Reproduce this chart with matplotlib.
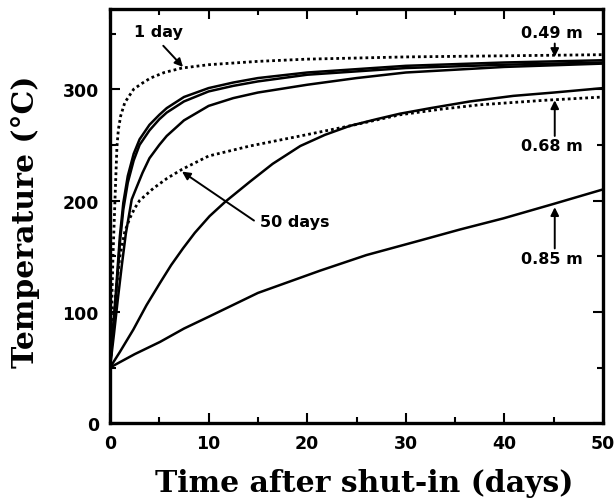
import matplotlib
matplotlib.use("Agg")
import matplotlib.pyplot as plt
from matplotlib.ticker import MultipleLocator

# curves (time in days, temperature in degC)
x_d1 = [0, 0.15, 0.3, 0.5, 0.7, 0.85, 1.08, 1.5, 2.4, 3.2, 4.1, 5.5, 7.3, 10, 15, 20, 30, 40, 50]
t_d1 = [50, 100, 150, 200, 248, 264, 276, 288, 300, 305, 310, 315, 319, 322, 325, 327, 329, 330, 331]

x_s1 = [0, 0.3, 0.6, 1.0, 1.35, 1.8, 2.4, 3.0, 4.0, 5.0, 5.75, 7.5, 10, 12.5, 15, 20, 25, 30, 40, 50]
t_s1 = [50, 85, 118, 168, 198, 222, 242, 255, 268, 277, 283, 293, 301, 306, 310, 315, 318, 321, 324, 326]

x_s2 = [0, 0.3, 0.6, 1.0, 1.35, 1.8, 2.4, 3.0, 4.0, 5.0, 5.75, 7.5, 10, 12.5, 15, 20, 25, 30, 40, 50]
t_s2 = [50, 82, 113, 162, 192, 216, 236, 250, 263, 273, 279, 289, 298, 303, 307, 313, 316, 319, 322, 324]

x_s3 = [0, 0.4, 0.8, 1.2, 1.6, 2.2, 2.7, 3.3, 4.0, 5.0, 5.75, 7.5, 10, 12.5, 15, 20, 25, 30, 40, 50]
t_s3 = [50, 80, 112, 142, 170, 201, 212, 225, 238, 250, 258, 272, 285, 292, 297, 304, 310, 315, 320, 323]

x_d2 = [0, 0.3, 0.6, 1.0, 1.5, 2.0, 2.5, 3.0, 4.4, 5.8, 7.3, 10, 14.2, 19.3, 24.3, 29.4, 33.5, 37.5, 44, 50]
t_d2 = [50, 85, 118, 150, 172, 184, 193, 200, 211, 220, 228, 240, 249, 258, 267, 277, 282, 286, 290, 293]

x_s4 = [0, 1.0, 2.36, 3.7, 5.07, 6.2, 7.4, 8.6, 10.1, 11.7, 14.2, 16.5, 19.3, 21.8, 24.3, 27, 29.4, 32.5, 36.5, 40.9, 45, 50]
t_s4 = [50, 64, 84, 106, 126, 142, 157, 171, 186, 199, 217, 233, 249, 259, 267, 273, 278, 283, 289, 294, 297, 301]

x_s5 = [0, 2.5, 5.07, 7.5, 10.1, 15, 21.3, 26, 31.4, 35.5, 39.9, 45, 50]
t_s5 = [50, 62, 73, 85, 96, 117, 137, 151, 164, 174, 184, 197, 210]

fig = plt.figure(figsize=(6.16, 5.02), dpi=100)
ax = fig.add_axes([0.1786, 0.155, 0.8004, 0.825])

lw = 1.8
ax.plot(x_d1, t_d1, color="black", lw=2.0, ls=(0, (1, 1.1)))
ax.plot(x_s1, t_s1, color="black", lw=lw)
ax.plot(x_s2, t_s2, color="black", lw=lw)
ax.plot(x_s3, t_s3, color="black", lw=lw)
ax.plot(x_d2, t_d2, color="black", lw=2.0, ls=(0, (1, 1.1)))
ax.plot(x_s4, t_s4, color="black", lw=lw)
ax.plot(x_s5, t_s5, color="black", lw=lw)

ax.set_xlim(0, 50)
ax.set_ylim(0, 372)
ax.xaxis.set_major_locator(MultipleLocator(10))
ax.xaxis.set_minor_locator(MultipleLocator(5))
ax.yaxis.set_major_locator(MultipleLocator(100))
ax.yaxis.set_minor_locator(MultipleLocator(50))
ax.tick_params(which="both", direction="in", top=True, right=True, width=1.5)
ax.tick_params(which="major", length=7, labelsize=12.5, pad=8)
ax.tick_params(which="minor", length=4)
for lab in ax.get_xticklabels() + ax.get_yticklabels():
    lab.set_fontweight("bold")
for sp in ax.spines.values():
    sp.set_linewidth(2.4)

ax.set_xlabel("Time after shut-in (days)", family="DejaVu Serif", fontsize=21.5, fontweight="bold")
ax.set_ylabel("Temperature (°C)", family="DejaVu Serif", fontsize=21.5, fontweight="bold")
ax.xaxis.set_label_coords(0.515, -0.108)
ax.yaxis.set_label_coords(-0.143, 0.49)

arrow = dict(arrowstyle="-|>", color="black", lw=1.4, mutation_scale=12, shrinkA=0, shrinkB=0)
txt = dict(fontsize=11.5, fontweight="bold", ha="center", va="center")

ax.text(4.9, 352, "1 day", **txt)
ax.annotate("", xy=(7.4, 320), xytext=(5.4, 339), arrowprops=arrow)

ax.text(15.2, 181, "50 days", fontsize=11.5, fontweight="bold", ha="left", va="center")
ax.annotate("", xy=(7.3, 226), xytext=(14.6, 182), arrowprops=arrow)

ax.text(44.8, 351, "0.49 m", **txt)
ax.annotate("", xy=(45.1, 329), xytext=(45.1, 341), arrowprops=arrow)

ax.text(44.8, 249, "0.68 m", **txt)
ax.annotate("", xy=(45.1, 290), xytext=(45.1, 258), arrowprops=arrow)

ax.text(44.8, 148, "0.85 m", **txt)
ax.annotate("", xy=(45.1, 194), xytext=(45.1, 157), arrowprops=arrow)

fig.savefig("out.png", dpi=100)
